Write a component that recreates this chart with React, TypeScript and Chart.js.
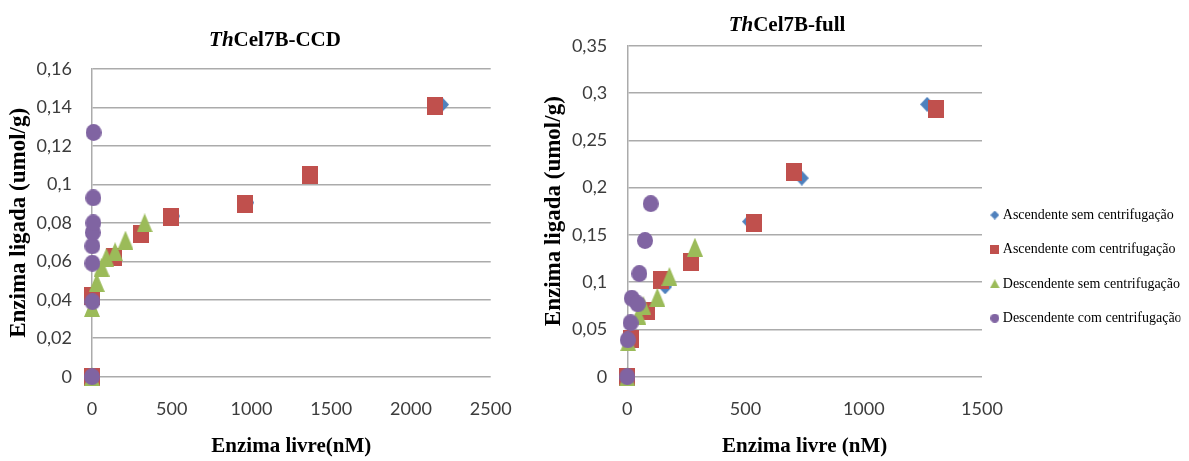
import React, { useEffect, useRef } from "react";
import { Chart, registerables } from "chart.js";

Chart.register(...registerables);

// ThCel7B-CCD: free enzyme (nM) vs bound enzyme (umol/g)
const ccdAscSemX = [0, 5, 135, 310, 510, 975, 1360, 2195];
const ccdAscSemY = [0, 0.041, 0.062, 0.0735, 0.0835, 0.0905, 0.105, 0.1415];
const ccdAscComX = [0, 0, 135, 305, 495, 960, 1365, 2150];
const ccdAscComY = [0, 0.042, 0.062, 0.074, 0.083, 0.09, 0.105, 0.141];
const ccdDescSemX = [0, 0, 30, 60, 90, 145, 210, 330];
const ccdDescSemY = [0, 0.036, 0.049, 0.057, 0.062, 0.065, 0.071, 0.08];
const ccdDescComX = [0, 3, 2, 2, 5, 8, 8, 10];
const ccdDescComY = [0, 0.039, 0.059, 0.068, 0.075, 0.08, 0.093, 0.127];

// ThCel7B-full: free enzyme (nM) vs bound enzyme (umol/g)
const fullAscSemX = [0, 12, 70, 160, 275, 515, 738, 1268];
const fullAscSemY = [0, 0.038, 0.068, 0.095, 0.12, 0.164, 0.21, 0.288];
const fullAscComX = [0, 14, 82, 143, 268, 535, 705, 1305];
const fullAscComY = [0, 0.04, 0.069, 0.102, 0.121, 0.162, 0.216, 0.283];
const fullDescSemX = [0, 4, 47, 68, 127, 178, 286];
const fullDescSemY = [0, 0.037, 0.065, 0.075, 0.084, 0.106, 0.137];
const fullDescComX = [0, 2, 14, 19, 44, 51, 75, 99];
const fullDescComY = [0, 0.039, 0.057, 0.083, 0.077, 0.109, 0.144, 0.183];

// Axis ranges
const ccdXMax = 2500;
const ccdXStep = 500;
const ccdYMax = 0.16;
const ccdYStep = 0.02;
const fullXMax = 1500;
const fullXStep = 500;
const fullYMax = 0.35;
const fullYStep = 0.05;

const seriesNames = [
  "Ascendente sem centrifugação",
  "Ascendente com centrifugação",
  "Descendente sem centrifugação",
  "Descendente com centrifugação",
];
const seriesColors = ["#4f81bd", "#c0504d", "#9bbb59", "#8064a2"];
const markerShapes = ["diamond", "square", "triangle", "circle"];
const markerSizes = [
  [14, 15],
  [16, 18],
  [16, 19],
  [16, 17],
];
const legendMarkerSizes = [
  [9, 9],
  [9, 9],
  [10, 9],
  [9, 9],
];

const SERIF = '"Liberation Serif", "Times New Roman", serif';
const SANS = 'Lato, "Liberation Sans", sans-serif';
const GRID = "#ababab";
const TICK_COLOR = "#3c3c3c";

function makeMarker(shape: string, color: string, w: number, h: number) {
  const c = document.createElement("canvas");
  c.width = w;
  c.height = h;
  const g = c.getContext("2d")!;
  g.fillStyle = color;
  g.beginPath();
  if (shape === "diamond") {
    g.moveTo(w / 2, 0);
    g.lineTo(w, h / 2);
    g.lineTo(w / 2, h);
    g.lineTo(0, h / 2);
  } else if (shape === "square") {
    g.rect(0, 0, w, h);
  } else if (shape === "triangle") {
    g.moveTo(w / 2, 0);
    g.lineTo(w, h);
    g.lineTo(0, h);
  } else {
    g.ellipse(w / 2, h / 2, w / 2, h / 2, 0, 0, Math.PI * 2);
  }
  g.closePath();
  g.fill();
  return c;
}

const commaLabel = (v: number | string) =>
  String(parseFloat(Number(v).toFixed(3))).replace(".", ",");
const plainLabel = (v: number | string) => String(Math.round(Number(v)));

// Title with an italic "Th" prefix followed by bold upright text
function titlePlugin(prefix: string, rest: string, cx: number, baseline: number) {
  return {
    id: "mixedTitle",
    afterDraw(chart: any) {
      const ctx = chart.ctx as CanvasRenderingContext2D;
      const size = 21;
      const italic = `italic bold ${size}px ${SERIF}`;
      const upright = `bold ${size}px ${SERIF}`;
      ctx.save();
      ctx.fillStyle = "#000";
      ctx.textBaseline = "alphabetic";
      ctx.textAlign = "left";
      ctx.font = italic;
      const w1 = ctx.measureText(prefix).width;
      ctx.font = upright;
      const w2 = ctx.measureText(rest).width;
      const x0 = cx - (w1 + w2) / 2;
      ctx.font = italic;
      ctx.fillText(prefix, x0, baseline);
      ctx.font = upright;
      ctx.fillText(rest, x0 + w1, baseline);
      ctx.restore();
    },
  };
}

// Moves the legend block so its rows sit beside the plot
function legendOffsetPlugin(dx: number, dy: number) {
  return {
    id: "legendOffset",
    afterLayout(chart: any) {
      const l = chart.legend;
      if (!l) return;
      l.left += dx;
      l.right += dx;
      l.top += dy;
      l.bottom += dy;
    },
  };
}

function buildDatasets(xs: number[][], ys: number[][], markers: HTMLCanvasElement[]) {
  return xs.map((xArr, i) => ({
    label: seriesNames[i],
    data: xArr.map((x, j) => ({ x, y: ys[i][j] })),
    pointStyle: markers[i],
    pointRadius: 8,
    pointHoverRadius: 8,
    backgroundColor: seriesColors[i],
    borderColor: seriesColors[i],
    borderWidth: 0,
    showLine: false,
    clip: false as any,
    order: 3 - i,
  }));
}

function buildScales(
  xMax: number,
  xStep: number,
  yMax: number,
  yStep: number,
  xTitle: string,
  yAxisWidth: number,
  yTitlePad: number
) {
  return {
    x: {
      type: "linear" as const,
      min: 0,
      max: xMax,
      afterFit: (s: any) => {
        s.height = 84.3;
      },
      ticks: {
        stepSize: xStep,
        padding: 22,
        maxRotation: 0,
        color: TICK_COLOR,
        font: { family: SANS, size: 18 },
        callback: (v: number | string) => plainLabel(v),
      },
      grid: { display: false, drawTicks: false },
      border: { display: false },
      title: {
        display: true,
        text: xTitle,
        color: "#000",
        font: { family: SERIF, size: 21, weight: "bold" as const },
        padding: { top: 0, bottom: 1.7 },
      },
    },
    y: {
      type: "linear" as const,
      min: 0,
      max: yMax,
      afterFit: (s: any) => {
        s.width = yAxisWidth;
      },
      ticks: {
        stepSize: yStep,
        padding: 20,
        color: TICK_COLOR,
        font: { family: SANS, size: 18 },
        callback: (v: number | string) => commaLabel(v),
      },
      grid: { color: GRID, lineWidth: 1.5, drawTicks: false },
      border: { display: true, color: GRID, width: 1.5 },
      title: {
        display: true,
        text: "Enzima ligada (umol/g)",
        color: "#000",
        font: { family: SERIF, size: 23, weight: "bold" as const },
        padding: { top: yTitlePad, bottom: 0 },
      },
    },
  };
}

export default function App() {
  const leftRef = useRef<HTMLCanvasElement>(null);
  const rightRef = useRef<HTMLCanvasElement>(null);

  useEffect(() => {
    const bigMarkers = markerShapes.map((s, i) =>
      makeMarker(s, seriesColors[i], markerSizes[i][0], markerSizes[i][1])
    );
    const smallMarkers = markerShapes.map((s, i) =>
      makeMarker(s, seriesColors[i], legendMarkerSizes[i][0], legendMarkerSizes[i][1])
    );

    const left = new Chart(leftRef.current!, {
      type: "scatter",
      data: {
        datasets: buildDatasets(
          [ccdAscSemX, ccdAscComX, ccdDescSemX, ccdDescComX],
          [ccdAscSemY, ccdAscComY, ccdDescSemY, ccdDescComY],
          bigMarkers
        ) as any,
      },
      options: {
        responsive: false,
        animation: false,
        layout: { padding: { top: 69, right: 49.3, bottom: 0, left: 0 } },
        plugins: { legend: { display: false }, tooltip: { enabled: false } },
        scales: buildScales(ccdXMax, ccdXStep, ccdYMax, ccdYStep, "Enzima livre(nM)", 92, 5) as any,
      },
      plugins: [titlePlugin("Th", "Cel7B-CCD", 275, 46)],
    });

    const right = new Chart(rightRef.current!, {
      type: "scatter",
      data: {
        datasets: buildDatasets(
          [fullAscSemX, fullAscComX, fullDescSemX, fullDescComX],
          [fullAscSemY, fullAscComY, fullDescSemY, fullDescComY],
          bigMarkers
        ) as any,
      },
      options: {
        responsive: false,
        animation: false,
        layout: { padding: { top: 45.7, right: 0, bottom: 0, left: 0 } },
        plugins: {
          tooltip: { enabled: false },
          legend: {
            display: true,
            position: "right",
            align: "center",
            maxWidth: 207,
            labels: {
              usePointStyle: true,
              boxWidth: 2,
              padding: 20.4,
              color: "#000",
              font: { family: SERIF, size: 14 },
              generateLabels: () =>
                seriesNames.map((text, i) => ({
                  text,
                  fillStyle: seriesColors[i],
                  strokeStyle: seriesColors[i],
                  lineWidth: 0,
                  pointStyle: smallMarkers[i] as any,
                  hidden: false,
                  datasetIndex: i,
                })),
            },
          },
        },
        scales: buildScales(fullXMax, fullXStep, fullYMax, fullYStep, "Enzima livre (nM)", 87.3, 0) as any,
      },
      plugins: [titlePlugin("Th", "Cel7B-full", 247, 30.5), legendOffsetPlugin(-8.6, 13.3)],
    });

    return () => {
      left.destroy();
      right.destroy();
    };
  }, []);

  return (
    <div
      style={{
        position: "absolute",
        left: 0,
        top: 0,
        width: 1189,
        height: 461,
        background: "#fff",
      }}
    >
      <canvas ref={leftRef} width={540} height={461} style={{ position: "absolute", left: 0, top: 0 }} />
      <canvas ref={rightRef} width={649} height={461} style={{ position: "absolute", left: 540, top: 0 }} />
    </div>
  );
}
